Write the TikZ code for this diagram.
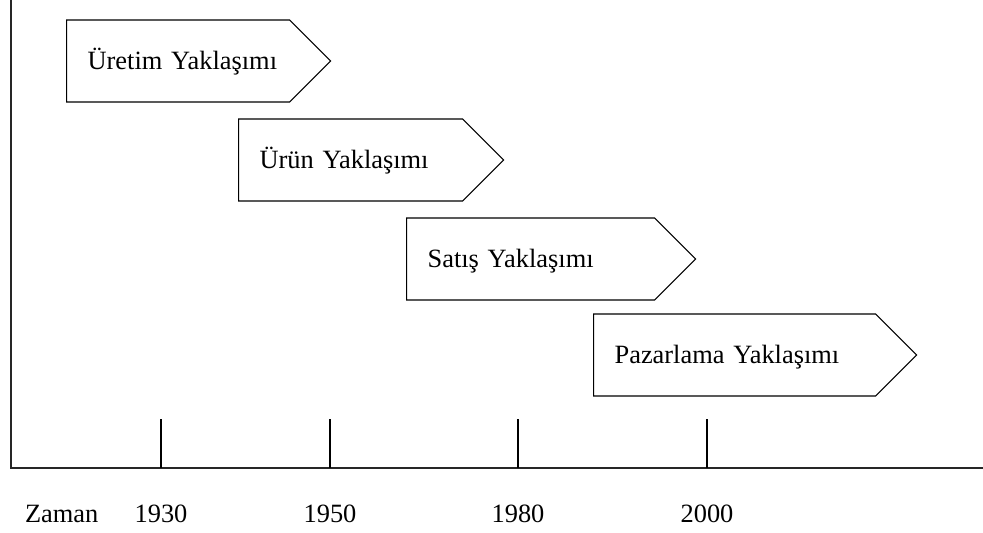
\documentclass[tikz,border=0pt]{standalone}
\usepackage{fontspec}
\setmainfont{Liberation Serif}
\usetikzlibrary{shapes.symbols}

\begin{document}
\begin{tikzpicture}[
  x=0.5pt, y=-0.5pt,
  every node/.style={font=\fontsize{13.2}{15}\selectfont},
  phase/.style={
    draw, line width=0.6pt, shape=signal, signal to=east,
    signal pointer angle=90, minimum height=41pt,
    inner xsep=1pt, inner ysep=0pt, align=left, anchor=west,
    text height=12pt, text depth=3pt,
    execute at begin node={\hspace*{9.5pt}}
  },
  axis/.style={line width=0.7pt, draw=black!85},
  tick/.style={line width=0.6pt}
]
\useasboundingbox (0,0) rectangle (983,533);

% Axes
\coordinate (ytop) at (11,0);
\coordinate (orig) at (11,468);
\coordinate (xend) at (983,468);
\draw[axis] (ytop) -- (orig) -- (xend);

% Phases
\node[phase, text width=109.5pt] (uretim) at (66,61) {Üretim Yaklaşımı};
\node[phase, text width=110pt] (urun) at (238,160) {Ürün Yaklaşımı};
\node[phase, text width=122pt] (satis) at (406,259) {Satış Yaklaşımı};
\node[phase, text width=139pt] (pazar) at (593,355) {Pazarlama Yaklaşımı};

% Ticks and years
\foreach \x/\yr in {161/1930, 330/1950, 518/1980, 707/2000} {
  \coordinate (tk\yr) at (\x,419);
  \draw[tick] (tk\yr) -- (tk\yr |- orig);
  \node[anchor=base] (y\yr) at (\x,522) {\yr};
}
\node[anchor=base west] (zaman) at (18,522) {Zaman};

\end{tikzpicture}
\end{document}
